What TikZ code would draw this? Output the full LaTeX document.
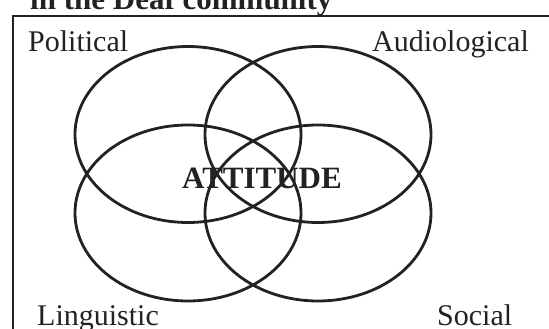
\documentclass[tikz,border=0pt]{standalone}
\usepackage{fontspec}
\setmainfont{Liberation Serif}
\usetikzlibrary{shapes.geometric}
\definecolor{ink}{HTML}{222222}
\tikzset{
  ring/.style={draw=ink, line width=2.8pt, ellipse, minimum width=226pt, minimum height=176pt, inner sep=0pt},
  lbl/.style={text=ink, font=\fontsize{30}{30}\selectfont, inner sep=0pt},
  frameline/.style={draw=ink, line width=2.8pt}
}
\begin{document}
\begin{tikzpicture}[x=1pt,y=-1pt]
\useasboundingbox (0,0) rectangle (549,329);
\clip (0,0) rectangle (549,329);
\fill[white] (0,0) rectangle (549,329);
% cut-off title
\node[lbl, anchor=base west, font=\fontsize{31}{31}\bfseries\selectfont] (title) at (30,10) {in the Deaf community};
% frame
\coordinate (fbl) at (13,400);
\coordinate (ftl) at (13,16);
\coordinate (ftr) at (600,16);
\draw[frameline] (fbl) -- (ftl) -- (ftr);
% ellipses
\node[ring] (pol) at (188,134.5) {};
\node[ring] (aud) at (318,134.5) {};
\node[ring] (lin) at (188,213) {};
\node[ring] (soc) at (318,213) {};
% labels
\node[lbl, anchor=base west] (tpol) at (28,52) {Political};
\node[lbl, anchor=base west] (taud) at (372,52) {Audiological};
\node[lbl, anchor=base west] (tlin) at (37,325) {Linguistic};
\node[lbl, anchor=base west] (tsoc) at (437,325) {Social};
\node[lbl, anchor=base, font=\fontsize{31}{31}\bfseries\selectfont] (att) at (262,188) {ATTITUDE};
\end{tikzpicture}
\end{document}
